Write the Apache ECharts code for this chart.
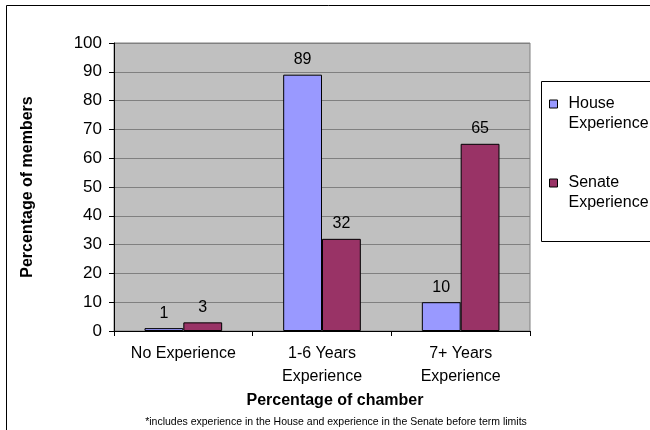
<!DOCTYPE html>
<html>
<head>
<meta charset="utf-8">
<script src="https://cdn.jsdelivr.net/npm/echarts@6/dist/echarts.min.js"></script>
<style>html,body{margin:0;padding:0;background:#fff;}#c{width:650px;height:430px;}</style>
</head>
<body>
<div id="c"></div>
<script>
var categories = ['No Experience', '1-6 Years\nExperience', '7+ Years\nExperience'];
var houseValues = [1, 89, 10];
var senateValues = [3, 32, 65];
var seriesNames = ['House Experience', 'Senate Experience'];
var yTicks = {min: 0, max: 100, interval: 10};
var FONT = 'Arial, "Liberation Sans", sans-serif';

var chart = echarts.init(document.getElementById('c'), null, {renderer: 'canvas'});
chart.setOption({
  animation: false,
  backgroundColor: '#ffffff',
  textStyle: {fontFamily: FONT},
  title: {
    text: '*includes experience in the House and experience in the Senate before term limits',
    left: 336, top: 417, textAlign: 'center', padding: 0,
    textStyle: {fontSize: 10.5, fontWeight: 'normal', color: '#000', fontFamily: FONT}
  },
  graphic: [
    {type: 'rect', shape: {x: 6.5, y: 5.5, width: 700, height: 500}, style: {fill: 'none', stroke: '#000', lineWidth: 1}, silent: true, z: -1},
    {type: 'rect', shape: {x: 541.5, y: 81.5, width: 130, height: 160}, style: {fill: '#fff', stroke: '#000', lineWidth: 1}, silent: true, z: 0}
  ],
  legend: {
    orient: 'vertical',
    left: 549, top: 74,
    padding: 0,
    itemWidth: 8, itemHeight: 8,
    itemGap: 19,
    icon: 'rect',
    z: 10,
    formatter: function (n) { return '{s| }\n{t|' + n.replace(' ', '}\n{t|') + '}'; },
    textStyle: {
      fontSize: 16, lineHeight: 20, color: '#000', fontFamily: FONT, padding: [0, 0, 0, 6],
      rich: {
        s: {fontSize: 16, lineHeight: 20, fontFamily: FONT},
        t: {fontSize: 16, lineHeight: 20, color: '#000', fontFamily: FONT}
      }
    },
    itemStyle: {borderColor: '#000', borderWidth: 1},
    data: seriesNames
  },
  grid: {
    left: 114, top: 43, width: 416, height: 288,
    show: true, backgroundColor: '#C0C0C0', borderColor: '#808080', borderWidth: 1
  },
  xAxis: {
    type: 'category',
    data: categories,
    name: 'Percentage of chamber',
    nameLocation: 'middle',
    nameGap: 61,
    nameTextStyle: {fontSize: 16, fontWeight: 'bold', color: '#000', fontFamily: FONT, padding: [0, 0, 0, 26]},
    axisLine: {lineStyle: {color: '#000', width: 1}},
    axisTick: {show: true, length: 5, lineStyle: {color: '#000'}},
    axisLabel: {fontSize: 16, lineHeight: 23, color: '#000', margin: 11, fontFamily: FONT},
    splitLine: {show: false}
  },
  yAxis: {
    type: 'value',
    min: yTicks.min, max: yTicks.max, interval: yTicks.interval,
    name: 'Percentage of members',
    nameLocation: 'middle',
    nameGap: 78,
    nameTextStyle: {fontSize: 16, fontWeight: 'bold', color: '#000', fontFamily: FONT},
    axisLine: {show: true, lineStyle: {color: '#000', width: 1}},
    axisTick: {show: true, length: 5, lineStyle: {color: '#000'}},
    axisLabel: {fontSize: 17, color: '#000', margin: 12, fontFamily: FONT},
    splitLine: {show: true, lineStyle: {color: '#808080', width: 1}}
  },
  series: [
    {
      name: seriesNames[0], type: 'bar', data: houseValues,
      barGap: '0%', barCategoryGap: '44%',
      itemStyle: {color: '#9999FF', borderColor: '#000', borderWidth: 1},
      label: {show: true, position: 'top', distance: 7, fontSize: 16, color: '#000', fontFamily: FONT}
    },
    {
      name: seriesNames[1], type: 'bar', data: senateValues,
      barGap: '0%', barCategoryGap: '44%',
      itemStyle: {color: '#993366', borderColor: '#000', borderWidth: 1},
      label: {show: true, position: 'top', distance: 7, fontSize: 16, color: '#000', fontFamily: FONT}
    }
  ]
});
</script>
</body>
</html>
